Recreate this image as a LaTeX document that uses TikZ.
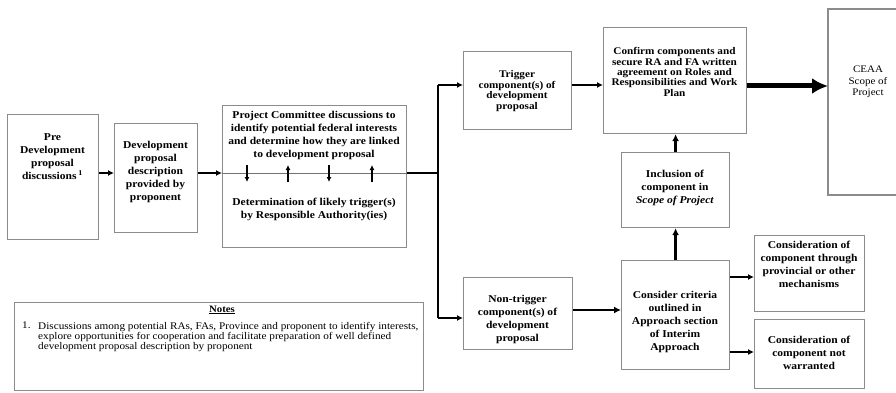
\documentclass[tikz,border=0pt]{standalone}
\usepackage{fontspec}
\setmainfont{Liberation Serif}[FakeStretch=1.1]
\usetikzlibrary{arrows.meta}
\begin{document}
\begin{tikzpicture}[x=1pt,y=-1pt,
  box/.style={draw=black!45, line width=1.2pt, fill=white, inner sep=0pt, anchor=north west},
  txt/.style={align=center, inner sep=0pt, font=\fontsize{10.5}{13}\selectfont\bfseries},
  stxt/.style={align=center, inner sep=0pt, font=\fontsize{10.2}{10.4}\selectfont\bfseries},
  arr/.style={line width=1.8pt, -{Latex[length=6pt,width=6pt]}},
  arrb/.style={line width=2.6pt, -{Latex[length=7pt,width=7pt]}},
  sarr/.style={line width=1.6pt, -{Latex[length=5pt,width=5pt]}},
  bigarr/.style={line width=5pt, -{Latex[length=16pt,width=16pt]}},
  wire/.style={line width=1.8pt}]
\useasboundingbox[fill=white] (0,0) rectangle (896,393);

% boxes
\node[box, minimum width=91pt, minimum height=125pt] (pre) at (7,114) {};
\node[box, minimum width=83pt, minimum height=109pt] (dev) at (114,123) {};
\node[box, minimum width=184pt, minimum height=142pt] (pc) at (222,105) {};
\node[box, minimum width=108pt, minimum height=78pt] (trig) at (463,51) {};
\node[box, minimum width=143pt, minimum height=106pt] (conf) at (603,27) {};
\node[box, minimum width=108pt, minimum height=75pt] (incl) at (621,152) {};
\node[box, minimum width=108pt, minimum height=109pt] (cons) at (621,260) {};
\node[box, minimum width=109pt, minimum height=72pt] (non) at (463,277) {};
\node[box, minimum width=110pt, minimum height=76pt] (c1) at (754,235) {};
\node[box, minimum width=110pt, minimum height=69pt] (c2) at (754,319) {};
\node[box, minimum width=409pt, minimum height=88pt] (notes) at (14,302) {};
% CEAA box, cut by the right edge
\draw[draw=black!45, line width=1.2pt] (905,9) -- (828,9) -- (828,195) -- (905,195);
\coordinate (ceaaW) at (828,86);

% texts
\node[txt] (pretxt) at (52.5,157) {Pre\\Development\\proposal\\discussions\,\textsuperscript{1}};
\node[txt] (devtxt) at (155.5,171.5) {Development\\proposal\\description\\provided by\\proponent};
\node[txt] (pctxt) at (314,135) {Project Committee discussions to\\identify potential federal interests\\and determine how they are linked\\to development proposal};
\node[txt] (dettxt) at (314,209.5) {Determination of likely trigger(s)\\by Responsible Authority(ies)};
\node[stxt] (trigtxt) at (517,91) {Trigger\\component(s) of\\development\\proposal};
\node[stxt] (conftxt) at (674.5,72) {Confirm components and\\secure RA and FA written\\agreement on Roles and\\Responsibilities and Work\\Plan};
\node[align=center, inner sep=0pt, font=\fontsize{10}{11.7}\selectfont] (ceaatxt) at (868,82) {CEAA\\Scope of\\Project};
\node[txt] (incltxt) at (675,188) {Inclusion of\\component in\\\textit{Scope of Project}};
\node[txt] (constxt) at (675,322) {Consider criteria\\outlined in\\Approach section\\of Interim\\Approach};
\node[txt] (nontxt) at (517.5,319) {Non-trigger\\component(s) of\\development\\proposal};
\node[txt] (c1txt) at (809,264.5) {Consideration of\\component through\\provincial or other\\mechanisms};
\node[txt] (c2txt) at (809,353) {Consideration of\\component not\\warranted};
\node[inner sep=0pt, font=\fontsize{9.8}{10}\selectfont\bfseries] (notestitle) at (222,310) {\underline{Notes}};
\node[inner sep=0pt, anchor=north west, font=\fontsize{10.2}{10}\selectfont] (n1) at (22,322) {1.};
\node[inner sep=0pt, anchor=north west, align=left, font=\fontsize{10.2}{10}\selectfont] (n1txt) at (38,322) {Discussions among potential RAs, FAs, Province and proponent to identify interests,\\explore opportunities for cooperation and facilitate preparation of well defined\\development proposal description by proponent};

% connectors
\coordinate (axis) at (0,173);
\coordinate (busM) at (438,173);
\coordinate (busT) at (438,85);
\coordinate (busB) at (438,318);
\coordinate (y86) at (0,86);
\coordinate (y310) at (0,310);
\coordinate (y277) at (0,277);
\coordinate (y352) at (0,352);

\draw[arr] (pre.east |- axis) -- (dev.west |- axis);
\draw[arr] (dev.east |- axis) -- (pc.west |- axis);
\draw[draw=black!55, line width=1pt] (pc.west |- axis) -- (pc.east |- axis);
\draw[wire] (pc.east |- axis) -- (busM);
\draw[wire] (busT) -- (busB);
\draw[arr] (busT) -- (trig.west |- busT);
\draw[arr] (busB) -- (non.west |- busB);
\draw[arr] (trig.east |- busT) -- (conf.west |- busT);
\draw[bigarr] (conf.east |- y86) -- (ceaaW);
\draw[arrb] (incl.north) -- (conf.south -| incl.north);
\draw[arrb] (cons.north) -- (incl.south);
\draw[arrb] (non.east |- y310) -- (cons.west |- y310);
\draw[arr] (cons.east |- y277) -- (c1.west |- y277);
\draw[arr] (cons.east |- y352) -- (c2.west |- y352);

% small arrows inside the committee box
\coordinate (s1t) at (247,165); \coordinate (s1b) at (247,182);
\coordinate (s2t) at (288,165); \coordinate (s2b) at (288,182);
\coordinate (s3t) at (329,165); \coordinate (s3b) at (329,182);
\coordinate (s4t) at (372,165); \coordinate (s4b) at (372,182);
\draw[sarr] (s1t) -- (s1b);
\draw[sarr] (s2b) -- (s2t);
\draw[sarr] (s3t) -- (s3b);
\draw[sarr] (s4b) -- (s4t);
\end{tikzpicture}
\end{document}
